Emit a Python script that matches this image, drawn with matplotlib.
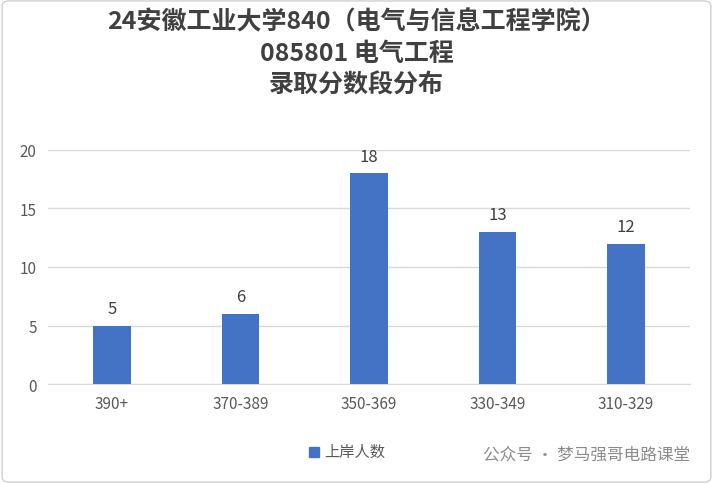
import matplotlib
matplotlib.use("Agg")
import matplotlib.pyplot as plt
from matplotlib.patches import FancyBboxPatch, Rectangle

plt.rcParams['font.family'] = ['Noto Sans CJK SC', 'DejaVu Sans']

categories = ["390+", "370-389", "350-369", "330-349", "310-329"]
values = [5, 6, 18, 13, 12]
series_name = "上岸人数"
title = "24安徽工业大学840（电气与信息工程学院）\n085801 电气工程\n录取分数段分布"

fig = plt.figure(figsize=(7.13, 4.85), dpi=100)
ax = fig.add_axes([0.067, 0.206, 0.901, 0.483])
x = list(range(len(categories)))
ax.bar(x, values, width=0.29, color="#4472C4", zorder=3)
for xi, v in zip(x, values):
    ax.annotate(str(v), (xi, v), xytext=(0, 6), textcoords="offset points",
                ha="center", va="bottom", fontsize=12, color="#404040")
ax.set_ylim(0, 20)
ax.set_xlim(-0.5, len(categories) - 0.5)
ax.set_yticks([0, 5, 10, 15, 20])
ax.set_xticks(x)
ax.set_xticklabels(categories)
ax.tick_params(axis="both", length=0, labelsize=11, colors="#595959", pad=8)
ax.grid(axis="y", color="#D9D9D9", linewidth=1, zorder=0)
for s in ["top", "right", "left"]:
    ax.spines[s].set_visible(False)
ax.spines["bottom"].set_color("#D9D9D9")

fig.text(0.5, 0.98, title, ha="center", va="top", fontsize=18,
         fontweight="bold", color="#404040", linespacing=1.4)

fig.patches.append(Rectangle((309/713, 1-458/485), 10/713, 10/485,
                             transform=fig.transFigure, color="#4472C4", figure=fig))
fig.text(324/713, 1-452/485, series_name, ha="left", va="center", fontsize=11, color="#595959")
fig.text(690/713, 1-455/485, "公众号 · 梦马强哥电路课堂", ha="right", va="center",
         fontsize=12, color="#8C8C8C")
fig.patches.append(FancyBboxPatch((0.003, 0.004), 0.994, 0.992,
                                  boxstyle="round,pad=0,rounding_size=0.01",
                                  transform=fig.transFigure, fill=False,
                                  edgecolor="#D0D0D0", linewidth=1, figure=fig))
fig.savefig("out.png", dpi=100)
